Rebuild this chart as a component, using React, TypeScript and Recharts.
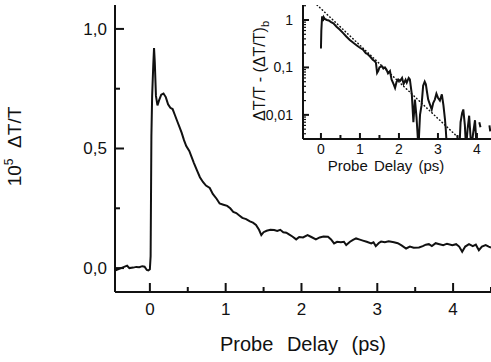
import { LineChart, Line, XAxis, YAxis, Label } from "recharts";

// main trace: probe delay (ps) and 10^5 dT/T
const mainDelay = [
  -0.46, -0.42, -0.38, -0.34, -0.3, -0.27, -0.22, -0.18, -0.14, -0.1, -0.07, -0.04, -0.02, 0.0,
  0.01, 0.02, 0.03, 0.045, 0.055, 0.065, 0.08, 0.1, 0.12, 0.15, 0.18, 0.21, 0.24, 0.27, 0.3,
  0.33, 0.36, 0.39, 0.42, 0.45, 0.48, 0.52, 0.55, 0.58, 0.62, 0.66, 0.7, 0.74, 0.79, 0.83,
  0.88, 0.92, 0.97, 1.02, 1.06, 1.1, 1.14, 1.18, 1.22, 1.27, 1.32, 1.36, 1.4, 1.44, 1.47,
  1.5, 1.54, 1.59, 1.64, 1.68, 1.72, 1.76, 1.8, 1.84, 1.88, 1.93, 1.97, 2.02, 2.08, 2.13,
  2.19, 2.24, 2.29, 2.35, 2.39, 2.43, 2.47, 2.52, 2.56, 2.59, 2.64, 2.68, 2.72, 2.76, 2.81,
  2.86, 2.92, 2.95, 2.98, 3.02, 3.05, 3.1, 3.15, 3.22, 3.27, 3.32, 3.38, 3.43, 3.48, 3.55,
  3.6, 3.64, 3.68, 3.72, 3.77, 3.82, 3.87, 3.92, 3.99, 4.04, 4.08, 4.12, 4.16, 4.21, 4.26,
  4.3, 4.34, 4.38, 4.43, 4.47, 4.5,
];
const mainSignal = [
  -0.01, -0.005, 0.0, 0.005, 0.01, 0.0, 0.002, 0.005, 0.004, 0.008, 0.006, -0.008, -0.01, -0.005,
  0.05, 0.55, 0.72, 0.85, 0.92, 0.86, 0.72, 0.68, 0.7, 0.725, 0.73, 0.715, 0.685, 0.67, 0.665,
  0.64, 0.615, 0.59, 0.565, 0.535, 0.51, 0.49, 0.465, 0.44, 0.41, 0.38, 0.36, 0.345, 0.335, 0.31,
  0.29, 0.27, 0.265, 0.26, 0.25, 0.235, 0.23, 0.22, 0.21, 0.205, 0.195, 0.19, 0.18, 0.16, 0.138,
  0.15, 0.156, 0.16, 0.159, 0.155, 0.16, 0.15, 0.148, 0.14, 0.132, 0.12, 0.13, 0.128, 0.138, 0.13,
  0.12, 0.128, 0.132, 0.131, 0.12, 0.103, 0.11, 0.108, 0.11, 0.096, 0.11, 0.118, 0.124, 0.12, 0.115,
  0.11, 0.103, 0.108, 0.092, 0.105, 0.111, 0.108, 0.112, 0.108, 0.104, 0.095, 0.082, 0.09, 0.085, 0.086,
  0.092, 0.098, 0.1, 0.092, 0.104, 0.1, 0.096, 0.102, 0.096, 0.1, 0.09, 0.068, 0.09, 0.1, 0.092,
  0.098, 0.075, 0.09, 0.096, 0.09, 0.086,
];

// inset: background-subtracted signal on a log scale (null = gap in the trace)
const insetDelay = [
  0.0, 0.01, 0.03, 0.05, 0.07, 0.1, 0.15, 0.2, 0.26, 0.32, 0.4, 0.48, 0.57, 0.65, 0.74, 0.83,
  0.92, 1.0, 1.08, 1.15, 1.2, 1.26, 1.33, 1.38, 1.41, 1.44, 1.47, 1.5, 1.56, 1.6, 1.64, 1.68,
  1.72, 1.77, 1.81, 1.86, 1.9, 1.94, 1.98, 2.03, 2.08, 2.12, 2.17, 2.2, 2.25, 2.28, 2.33, 2.37,
  2.41, 2.45, 2.5, 2.54, 2.58, 2.62, 2.66, 2.69, 2.72, 2.75, 2.8, 2.84, 2.88, 2.92, 2.96, 3.0,
  3.05, 3.1, 3.14, 3.18, 3.2, 3.23, 3.4, 3.55, 3.58, 3.62, 3.65, 3.69, 3.72, 3.76, 3.8, 3.83,
  3.86, 3.9, 3.95, 3.98, 4.02, 4.06, 4.09, 4.2, 4.32, 4.34,
];
const insetSignal = [
  0.25, 0.6, 1.2, 0.95, 1.15, 1.05, 1.0, 0.98, 0.9, 0.85, 0.72, 0.63, 0.53, 0.45, 0.38, 0.33,
  0.29, 0.26, 0.237, 0.2, 0.19, 0.17, 0.145, 0.135, 0.125, 0.077, 0.085, 0.1, 0.107, 0.095, 0.1, 0.09,
  0.075, 0.084, 0.056, 0.045, 0.037, 0.05, 0.056, 0.052, 0.06, 0.045, 0.055, 0.048, 0.06, 0.056, 0.027, 0.007,
  0.021, 0.009, 0.002, 0.01, 0.016, 0.041, 0.05, 0.044, 0.03, 0.021, 0.016, 0.013, 0.018, 0.021, 0.028, 0.023,
  0.02, 0.027, 0.016, 0.008, 0.005, 0.002, null, 0.002, 0.007, 0.011, 0.013, 0.006, 0.002, 0.005, 0.0096, 0.004,
  0.002, 0.004, 0.0077, 0.003, null, 0.007, 0.0055, null, 0.006, 0.0045,
];

// dotted exponential fit, read at its two ends
const fitDelay = [-0.1, 3.56];
const fitSignal = [2.07, 0.0031];

const mainXTicks = [0, 0.5, 1, 1.5, 2, 2.5, 3, 3.5, 4, 4.5];
const mainYTicks = [0, 0.25, 0.5, 0.75, 1];
const mainYMajor = [0, 0.5, 1];
const insetXTicks = [0, 0.5, 1, 1.5, 2, 2.5, 3, 3.5, 4];
const insetYTicks = [
  0.004, 0.005, 0.006, 0.007, 0.008, 0.009, 0.01, 0.02, 0.03, 0.04, 0.05, 0.06, 0.07, 0.08, 0.09,
  0.1, 0.2, 0.3, 0.4, 0.5, 0.6, 0.7, 0.8, 0.9, 1, 2,
];
const insetYLabels: Record<string, string> = { "1": "1", "0.1": "0,1", "0.01": "0,01" };

const mainData = mainDelay.map((t, i) => ({ t, v: mainSignal[i] }));
const insetData = insetDelay.map((t, i) => ({ t, v: insetSignal[i] }));
const fitData = fitDelay.map((t, i) => ({ t, f: fitSignal[i] }));

const FONT = "'Liberation Sans', Arial, Helvetica, sans-serif";
const INK = "#111";

const MainXTick = ({ x, y, payload }: any) => {
  const major = Number.isInteger(payload.value);
  const axisY = y - 11;
  return (
    <g>
      <line x1={x} x2={x} y1={axisY} y2={axisY - (major ? 9 : 5)} stroke={INK} strokeWidth={2} />
      {major && (
        <text x={x} y={y} dy="0.71em" textAnchor="middle" fontSize={17} fontFamily={FONT} fill={INK}>
          {payload.value}
        </text>
      )}
    </g>
  );
};

const MainYTick = ({ x, y, payload }: any) => {
  const major = mainYMajor.includes(payload.value);
  const axisX = x + 8;
  return (
    <g>
      <line x1={axisX} x2={axisX + (major ? 9 : 5)} y1={y} y2={y} stroke={INK} strokeWidth={2} />
      {major && (
        <text x={x} y={y} dy="0.35em" textAnchor="end" fontSize={17} fontFamily={FONT} fill={INK}>
          {payload.value.toFixed(1).replace(".", ",")}
        </text>
      )}
    </g>
  );
};

const InsetXTick = ({ x, y, payload }: any) => {
  const major = Number.isInteger(payload.value);
  const axisY = y - 5;
  return (
    <g>
      <line x1={x} x2={x} y1={axisY} y2={axisY - (major ? 6 : 4)} stroke={INK} strokeWidth={2} />
      {major && (
        <text x={x} y={y} dy="0.71em" textAnchor="middle" fontSize={14} fontFamily={FONT} fill={INK}>
          {payload.value}
        </text>
      )}
    </g>
  );
};

const InsetYTick = ({ x, y, payload }: any) => {
  const label = insetYLabels[String(payload.value)];
  const axisX = x + 10;
  return (
    <g>
      <line x1={axisX} x2={axisX + (label ? 6 : 3)} y1={y} y2={y} stroke={INK} strokeWidth={label ? 2 : 1.2} />
      {label && (
        <text x={x} y={y} dy="0.35em" textAnchor="end" fontSize={14} fontFamily={FONT} fill={INK}>
          {label}
        </text>
      )}
    </g>
  );
};

const MainYLabel = ({ viewBox }: any) => {
  const vb = viewBox || { x: 0, y: 5, width: 115, height: 287 };
  const cx = vb.x + 14;
  const cy = vb.y + vb.height / 2 - 2;
  return (
    <text
      x={cx}
      y={cy}
      transform={`rotate(-90 ${cx} ${cy})`}
      textAnchor="middle"
      dy="0.35em"
      fontSize={19}
      fontFamily={FONT}
      fill={INK}
    >
      10
      <tspan fontSize={12} dy={-8}>5</tspan>
      <tspan dy={8}>{"\u00a0\u00a0\u0394T/T"}</tspan>
    </text>
  );
};

const MainXLabel = ({ viewBox }: any) => {
  const vb = viewBox || { x: 115, y: 292, width: 376, height: 70 };
  return (
    <text
      x={vb.x + vb.width / 2}
      y={vb.y + 59}
      textAnchor="middle"
      fontSize={20}
      wordSpacing={8}
      fontFamily={FONT}
      fill={INK}
    >
      Probe Delay (ps)
    </text>
  );
};

const InsetYLabel = ({ viewBox }: any) => {
  const vb = viewBox || { x: 0, y: 5, width: 63, height: 134 };
  const cx = vb.x + 19;
  const cy = vb.y + vb.height / 2 - 1;
  return (
    <text
      x={cx}
      y={cy}
      transform={`rotate(-90 ${cx} ${cy})`}
      textAnchor="middle"
      dy="0.35em"
      fontSize={16}
      fontFamily={FONT}
      fill={INK}
    >
      {"\u0394T/T - (\u0394T/T)"}
      <tspan fontSize={11} dy={4}>b</tspan>
    </text>
  );
};

const InsetXLabel = ({ viewBox }: any) => {
  const vb = viewBox || { x: 303, y: 139, width: 188, height: 41 };
  return (
    <text
      x={vb.x + vb.width / 2 - 11}
      y={vb.y + 32}
      textAnchor="middle"
      fontSize={15}
      wordSpacing={2}
      fontFamily={FONT}
      fill={INK}
    >
      Probe Delay (ps)
    </text>
  );
};

export default function App() {
  return (
    <div style={{ position: "absolute", left: 0, top: 0, width: 491, height: 362, background: "#fff" }}>
      <div style={{ position: "absolute", left: 0, top: 0 }}>
        <LineChart width={491} height={362} data={mainData} margin={{ top: 5, right: 0, bottom: 0, left: 0 }}>
          <XAxis
            dataKey="t"
            type="number"
            domain={[-0.46, 4.5]}
            ticks={mainXTicks}
            interval={0}
            height={70}
            tickSize={0}
            tickMargin={11}
            tick={<MainXTick />}
            axisLine={{ stroke: INK, strokeWidth: 2 }}
            allowDataOverflow
          >
            <Label content={<MainXLabel />} />
          </XAxis>
          <XAxis
            xAxisId="top"
            orientation="top"
            type="number"
            domain={[-0.46, 4.5]}
            height={0}
            tick={false}
            tickLine={false}
            axisLine={{ stroke: INK, strokeWidth: 2 }}
          />
          <YAxis
            type="number"
            domain={[-0.1, 1.1]}
            ticks={mainYTicks}
            interval={0}
            width={115}
            tickSize={0}
            tickMargin={8}
            tick={<MainYTick />}
            axisLine={{ stroke: INK, strokeWidth: 2 }}
            allowDataOverflow
          >
            <Label content={<MainYLabel />} />
          </YAxis>
          <Line
            dataKey="v"
            type="linear"
            stroke={INK}
            strokeWidth={2}
            dot={false}
            isAnimationActive={false}
          />
        </LineChart>
      </div>
      <div style={{ position: "absolute", left: 240, top: 0 }}>
        <LineChart width={251} height={180} margin={{ top: 5, right: 0, bottom: 0, left: 0 }}>
          <XAxis
            dataKey="t"
            type="number"
            domain={[-0.46, 4.36]}
            ticks={insetXTicks}
            interval={0}
            height={41}
            tickSize={0}
            tickMargin={5}
            tick={<InsetXTick />}
            axisLine={{ stroke: INK, strokeWidth: 2 }}
            allowDataOverflow
          >
            <Label content={<InsetXLabel />} />
          </XAxis>
          <YAxis
            type="number"
            scale="log"
            domain={[0.0031, 2.07]}
            ticks={insetYTicks}
            interval={0}
            width={63}
            tickSize={0}
            tickMargin={10}
            tick={<InsetYTick />}
            axisLine={{ stroke: INK, strokeWidth: 2 }}
            allowDataOverflow
          >
            <Label content={<InsetYLabel />} />
          </YAxis>
          <Line
            data={fitData}
            dataKey="f"
            type="linear"
            stroke={INK}
            strokeWidth={1.5}
            strokeDasharray="0.5 3"
            strokeLinecap="round"
            dot={false}
            isAnimationActive={false}
          />
          <Line
            data={insetData}
            dataKey="v"
            type="linear"
            stroke={INK}
            strokeWidth={2}
            dot={false}
            connectNulls={false}
            isAnimationActive={false}
          />
        </LineChart>
      </div>
    </div>
  );
}
